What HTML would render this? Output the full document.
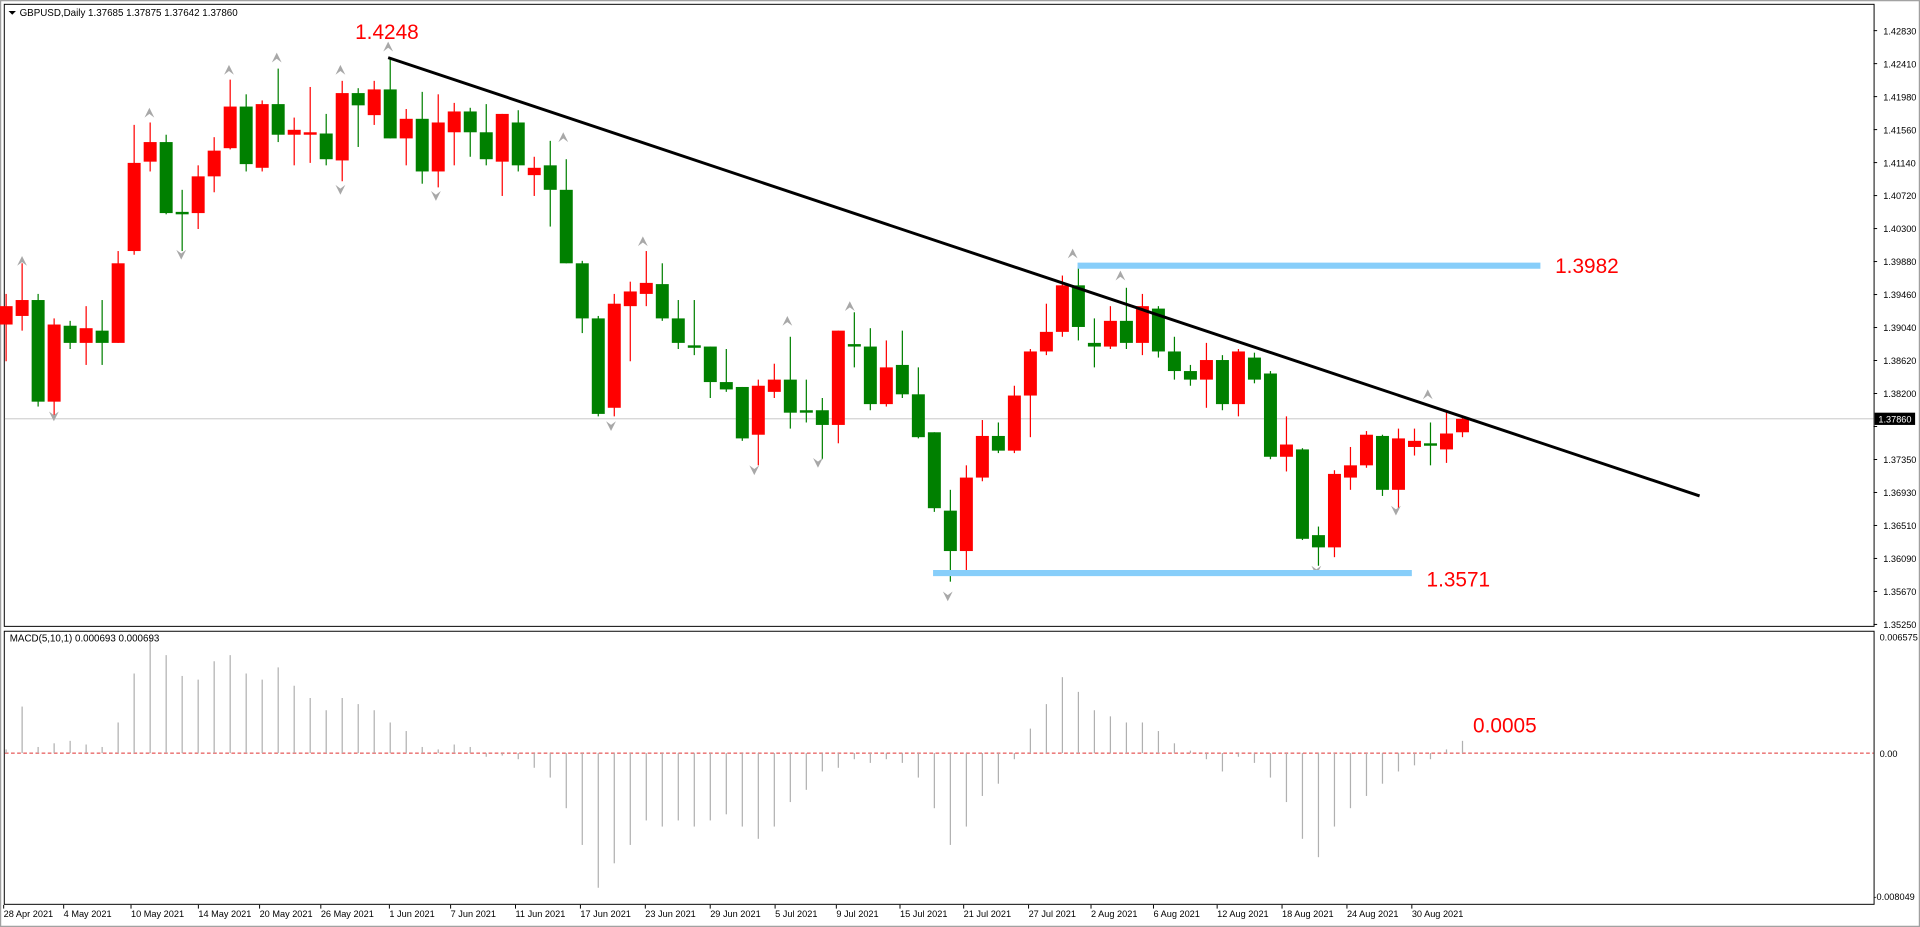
<!DOCTYPE html>
<html><head><meta charset="utf-8"><style>
html,body{margin:0;padding:0;background:#fff;width:1920px;height:927px;overflow:hidden}
svg{display:block}
text{font-family:"Liberation Sans",sans-serif}
</style></head><body>
<svg id="s" width="1920" height="927" viewBox="0 0 1568 757" xmlns="http://www.w3.org/2000/svg">
<rect x="0" y="0" width="1568" height="757" fill="#fff"/>
<rect x="0.5" y="0.5" width="1567" height="756" fill="none" stroke="#a0a0a0"/>
<rect x="3.5" y="3.5" width="1527" height="508" fill="none" stroke="#000" stroke-width="0.8"/>
<rect x="3.5" y="515.5" width="1527" height="223" fill="none" stroke="#000" stroke-width="0.8"/>
<line x1="4" y1="342" x2="1530" y2="342" stroke="#c0c0c0" stroke-width="0.8"/>
<line x1="4" y1="615" x2="1530" y2="615" stroke="#e03030" stroke-width="0.8" stroke-dasharray="3,2"/>
<g id="g"></g>
<line x1="317" y1="47" x2="1388" y2="405" stroke="#000" stroke-width="2.4"/>
<line x1="880" y1="217" x2="1258" y2="217" stroke="#87cefa" stroke-width="5"/>
<line x1="762" y1="468" x2="1153" y2="468" stroke="#87cefa" stroke-width="5"/>
<text x="290" y="32" font-size="17" fill="#ff0000">1.4248</text>
<text x="1270" y="223" font-size="17" fill="#ff0000">1.3982</text>
<text x="1165" y="479" font-size="17" fill="#ff0000">1.3571</text>
<text x="1203" y="598" font-size="17" fill="#ff0000">0.0005</text>
<path d="M7 9 L13 9 L10 12 Z" fill="#000"/>
<text x="16" y="13" font-size="8" fill="#000">GBPUSD,Daily  1.37685 1.37875 1.37642 1.37860</text>
<text x="8" y="524" font-size="8" fill="#000">MACD(5,10,1) 0.000693 0.000693</text>
<rect x="1531" y="337" width="33" height="10" fill="#000"/>
<text x="1534" y="345" font-size="7.5" fill="#fff">1.37860</text>
<text x="1535" y="523" font-size="7.5" fill="#000">0.006575</text>
<text x="1535" y="618" font-size="7.5" fill="#000">0.00</text>
<text x="1530" y="735" font-size="7.5" fill="#000">-0.008049</text>
</svg>
<script>
var g=document.getElementById('g'),NS='http://www.w3.org/2000/svg';
function el(t,a,txt){var e=document.createElementNS(NS,t);for(var k in a)e.setAttribute(k,a[k]);if(txt)e.textContent=txt;g.appendChild(e);return e;}
// color,bodyTop,bodyBot,wickHi,wickLo
var C=[['r',250,265,240,295],['r',245,258,215,270],['g',245,328,240,332],['r',265,328,260,340],['g',266,280,262,285],['r',268,280,250,298],['g',270,280,245,298],['r',215,280,205,280],['r',133,205,102,208],['r',116,132,100,140],['g',116,174,110,175],['g',173,175,155,205],['r',144,174,135,187],['r',123,144,112,157],['r',87,121,65,122],['g',87,134,77,140],['r',85,137,82,140],['g',85,110,56,116],['r',106,110,96,135],['r',108,110,71,133],['g',109,130,93,135],['r',76,131,66,148],['g',76,86,72,120],['r',73,94,66,102],['g',73,113,47,113],['r',97,113,89,135],['g',97,140,75,150],['r',100,140,77,153],['r',91,108,84,135],['g',91,108,88,128],['g',108,130,85,135],['r',93,132,93,160],['g',100,135,90,140],['r',137,143,128,160],['g',135,155,115,185],['g',155,215,130,215],['g',215,260,213,272],['g',260,338,258,340],['r',248,333,240,340],['r',238,250,230,295],['r',231,240,205,250],['g',232,260,215,262],['g',260,280,245,285],['g',282,284,245,290],['g',283,312,283,325],['g',312,318,285,320],['g',316,358,316,360],['r',315,355,310,380],['r',310,320,297,325],['g',310,337,275,350],['g',335,337,310,345],['g',335,347,325,375],['r',270,347,270,362],['g',281,283,255,300],['g',283,330,268,335],['r',300,330,278,332],['g',298,322,270,325],['g',322,357,300,358],['g',353,415,353,418],['g',417,450,400,475],['r',390,450,380,469],['r',356,390,343,393],['g',356,368,345,370],['r',323,368,315,370],['r',287,323,285,357],['r',271,287,248,290],['r',233,271,225,275],['g',233,267,218,278],['g',280,283,260,300],['r',262,283,250,285],['g',262,280,235,285],['r',250,280,240,290],['g',252,287,250,292],['g',287,303,275,310],['g',303,310,298,315],['r',294,310,280,333],['g',294,330,290,335],['r',287,330,285,340],['g',292,310,288,313],['g',305,373,303,375],['r',363,373,340,385],['g',367,440,366,441],['g',437,447,430,462],['r',387,447,384,455],['r',380,390,365,400],['r',355,380,352,382],['g',356,400,355,405],['r',358,400,350,415],['r',360,365,350,372],['g',362,364,345,380],['r',354,367,335,378],['r',342,353,340,357]];
var M=[3,38,5,8,10,7,5,25,65,95,80,63,60,75,80,65,60,70,55,45,35,45,40,35,25,18,5,3,7,5,-3,-2,-5,-12,-20,-45,-75,-110,-90,-75,-55,-60,-55,-60,-55,-50,-60,-70,-60,-40,-30,-15,-12,-5,-8,-5,-8,-20,-45,-75,-60,-35,-25,-5,20,40,62,50,35,30,25,25,18,8,2,-5,-15,-3,-8,-20,-40,-70,-85,-60,-45,-35,-25,-15,-10,-5,3,10];
for(var i=0;i<C.length;i++){var x=5+13.07*i,c=C[i],col=c[0]=='r'?'#ff0000':'#008000';
el('line',{x1:x,y1:c[3],x2:x,y2:c[4],stroke:col,'stroke-width':1});
var h=Math.max(1.2,c[2]-c[1]);el('rect',{x:x-5.3,y:c[1],width:10.6,height:h,fill:col});
if(M[i]!==undefined){var m=M[i];el('line',{x1:x,y1:615,x2:x,y2:615-m,stroke:'#b0b0b0','stroke-width':1});}}
// fractal arrows
var up=[[18,213],[122,92],[187,57],[226,47],[278,57],[317,38],[460,112],[525,197],[643,262],[694,250],[876,207],[915,225],[1166,322]];
up.forEach(function(p){el('path',{d:'M'+(p[0]-4)+' '+(p[1]+4)+' L'+p[0]+' '+(p[1]-4)+' L'+(p[0]+4)+' '+(p[1]+4)+' L'+p[0]+' '+(p[1]+1)+' Z',fill:'#a8a8a8'});});
var dn=[[44,340],[148,208],[278,155],[356,160],[499,348],[616,384],[668,378],[774,487],[1075,466],[1140,417]];
dn.forEach(function(p){el('path',{d:'M'+(p[0]-4)+' '+(p[1]-4)+' L'+p[0]+' '+(p[1]+4)+' L'+(p[0]+4)+' '+(p[1]-4)+' L'+p[0]+' '+(p[1]-1)+' Z',fill:'#a8a8a8'});});
// price axis
var pl=['1.42830','1.42410','1.41980','1.41560','1.41140','1.40720','1.40300','1.39880','1.39460','1.39040','1.38620','1.38200','1.37780','1.37350','1.36930','1.36510','1.36090','1.35670','1.35250'];
pl.forEach(function(t,k){var y=25+26.94*k;el('line',{x1:1530,y1:y,x2:1533,y2:y,stroke:'#000','stroke-width':0.8});if(t!=='1.37780')el('text',{x:1538,y:y+3,'font-size':7.5,fill:'#000'},t);});
var d=[['28 Apr 2021',3],['4 May 2021',52],['10 May 2021',107],['14 May 2021',162],['20 May 2021',212],['26 May 2021',262],['1 Jun 2021',318],['7 Jun 2021',368],['11 Jun 2021',421],['17 Jun 2021',474],['23 Jun 2021',527],['29 Jun 2021',580],['5 Jul 2021',633],['9 Jul 2021',683],['15 Jul 2021',735],['21 Jul 2021',787],['27 Jul 2021',840],['2 Aug 2021',891],['6 Aug 2021',942],['12 Aug 2021',994],['18 Aug 2021',1047],['24 Aug 2021',1100],['30 Aug 2021',1153]];
d.forEach(function(p){el('text',{x:p[1],y:749,'font-size':7.5,fill:'#000'},p[0]);el('line',{x1:p[1],y1:739,x2:p[1],y2:742,stroke:'#000','stroke-width':0.8});});
</script>
</body></html>
